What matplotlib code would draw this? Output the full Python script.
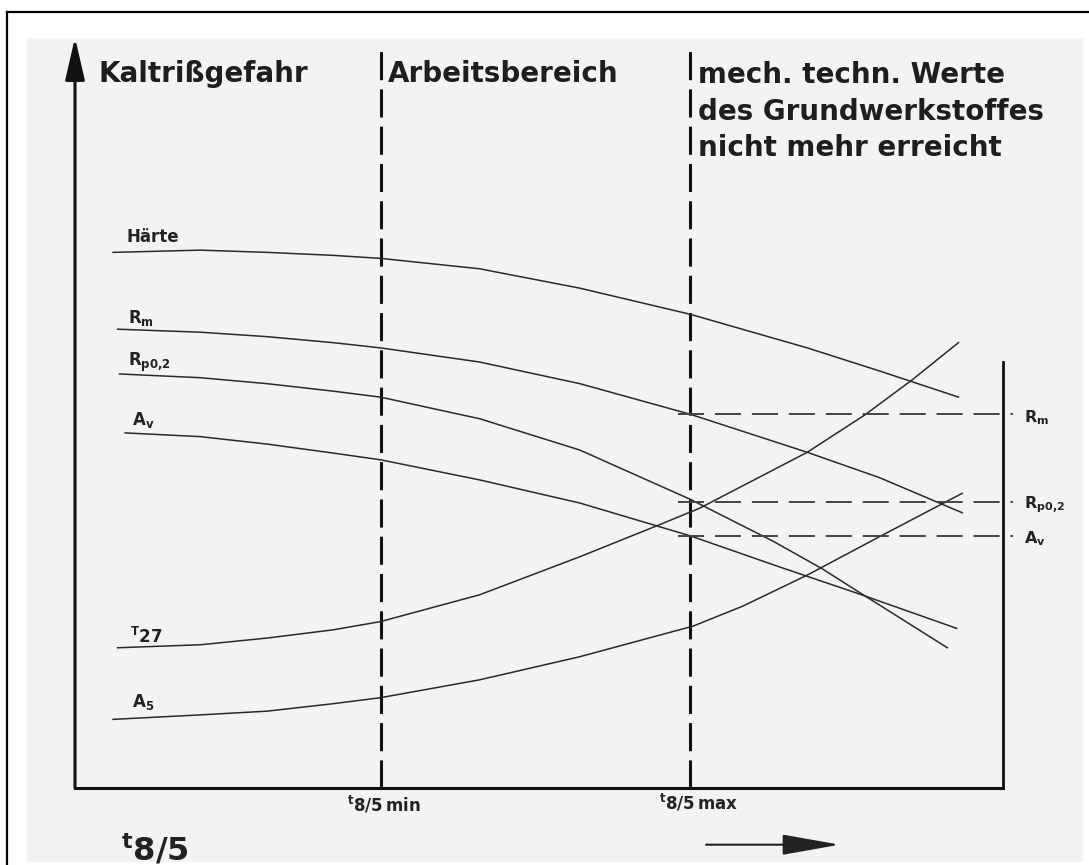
import matplotlib.pyplot as plt
from matplotlib.patches import Rectangle

plt.rcParams['mathtext.fontset'] = 'dejavusans'

# values read off the scanned schematic
# x = t8/5 in relative units (0..100), y = relative property value (0..100)
haerte_x = [4.1, 13.5, 20.7, 27.8, 32.9, 43.6, 54.4, 66.3, 78.9, 86.7, 95.2]
haerte_y = [71.8, 72.1, 71.8, 71.4, 71.0, 69.6, 67.0, 63.5, 59.0, 55.9, 52.4]

rm_x = [4.6, 13.5, 20.7, 27.8, 32.9, 43.6, 54.4, 66.3, 78.9, 86.7, 95.6]
rm_y = [61.5, 61.1, 60.5, 59.7, 59.0, 57.1, 54.2, 50.1, 45.0, 41.6, 36.9]

rp_x = [4.8, 13.5, 20.7, 27.8, 32.9, 43.6, 54.4, 66.3, 75.2, 80.5, 84.3, 94.0]
rp_y = [55.5, 55.0, 54.2, 53.2, 52.4, 49.5, 45.3, 38.7, 33.1, 29.4, 26.4, 18.8]

av_x = [5.4, 13.5, 20.7, 27.8, 32.9, 43.6, 54.4, 66.3, 76.0, 84.3, 95.0]
av_y = [47.6, 47.1, 46.1, 44.9, 44.0, 41.3, 38.2, 33.8, 29.6, 26.1, 21.4]

t27_x = [4.6, 13.5, 20.7, 27.8, 32.9, 43.6, 54.4, 63.0, 67.3, 78.9, 85.1, 90.2, 95.2]
t27_y = [18.8, 19.2, 20.1, 21.2, 22.3, 25.9, 31.0, 35.3, 37.5, 45.0, 50.0, 54.7, 59.7]

a5_x = [4.1, 13.5, 20.7, 27.8, 32.9, 43.6, 54.4, 66.6, 72.0, 79.0, 86.4, 95.6]
a5_y = [9.2, 9.8, 10.3, 11.3, 12.1, 14.5, 17.6, 21.7, 24.4, 28.6, 33.5, 39.5]

curve_labels = ['Härte', r'$\mathbf{R_m}$', r'$\mathbf{R_{p0{,}2}}$', r'$\mathbf{A_v}$',
                r'$\mathbf{{}^{T}27}$', r'$\mathbf{A_5}$']
label_pos = [(5.6, 73.9), (5.7, 63.0), (5.7, 57.1), (6.1, 49.3), (5.9, 20.3), (6.1, 11.5)]

t_min = 33.0
t_max = 66.3
ref_names = [r'$\mathbf{R_m}$', r'$\mathbf{R_{p0{,}2}}$', r'$\mathbf{A_v}$']
ref_levels = [50.1, 38.4, 33.8]
ref_start, ref_end = 65.0, 101.1
right_line_top = 57.1

zone_titles = ['Kaltrißgefahr', 'Arbeitsbereich']
zone_title_x = [2.5, 33.7]
zone3_lines = ['mech. techn. Werte', 'des Grundwerkstoffes', 'nicht mehr erreicht']
zone3_y = [95.6, 90.6, 85.8]

W, H = 1089, 865
fig = plt.figure(figsize=(W / 100, H / 100), dpi=100)
fig.patch.set_facecolor('white')

# scanned paper look + outer frame
fig.patches.append(Rectangle((27 / W, 3 / H), 1056 / W, 824 / H, transform=fig.transFigure,
                             facecolor='#f3f3f3', edgecolor='none', zorder=-5))
fig.add_artist(plt.Line2D([7 / W, 7 / W], [0, 853 / H], color='black', lw=1.6))
fig.add_artist(plt.Line2D([7 / W, 1], [853 / H, 853 / H], color='black', lw=1.6))

ax = fig.add_axes([75 / W, (H - 788) / H, (1003 - 75) / W, (788 - 42) / H])
ax.set_facecolor('none')
ax.set_xlim(0, 100)
ax.set_ylim(0, 100)
for s in ['top', 'right', 'left']:
    ax.spines[s].set_visible(False)
ax.spines['bottom'].set_linewidth(2.2)
ax.spines['bottom'].set_color('#111111')
ax.set_xticks([])
ax.set_yticks([])

# y axis arrow
ax.annotate('', xy=(0, 100.6), xytext=(0, 0), annotation_clip=False,
            arrowprops=dict(arrowstyle='-|>,head_length=1.3,head_width=0.3',
                            mutation_scale=20, lw=2.2, color='#111111',
                            shrinkA=0, shrinkB=0))
ax.plot([100, 100], [0, right_line_top], color='#111111', lw=2.0, clip_on=False)

# zone borders
for t in [t_min, t_max]:
    ax.plot([t, t], [0, 99.6], color='#111111', lw=2.2, dashes=(9.2, 3.0), clip_on=False)

# curves
line_kw = dict(color='#2a2a2a', lw=1.1, solid_joinstyle='round')
for xs, ys in [(haerte_x, haerte_y), (rm_x, rm_y), (rp_x, rp_y),
               (av_x, av_y), (t27_x, t27_y), (a5_x, a5_y)]:
    ax.plot(xs, ys, **line_kw)

for txt, (lx, ly) in zip(curve_labels, label_pos):
    ax.text(lx, ly, txt, fontsize=12, fontweight='bold', color='#222222',
            ha='left', va='center')

# reference levels at t8/5 max
for name, lvl in zip(ref_names, ref_levels):
    ax.plot([ref_start, ref_end], [lvl, lvl], color='#444444', lw=1.4,
            dashes=(13.4, 5.6), clip_on=False)
    ax.text(102.3, lvl - 0.4, name, fontsize=11.5, color='#222222',
            ha='left', va='center', clip_on=False)

# zone titles
for txt, zx in zip(zone_titles, zone_title_x):
    ax.text(zx, 95.7, txt, fontsize=20, fontweight='bold', color='#1e1e1e',
            ha='left', va='center')
for txt, zy in zip(zone3_lines, zone3_y):
    ax.text(67.1, zy, txt, fontsize=20, fontweight='bold', color='#1e1e1e',
            ha='left', va='center')

# x axis marks
ax.text(t_min + 0.3, -2.3, r'$\mathbf{{}^{t}8/5\,min}$', fontsize=12, ha='center',
        va='center', color='#222222')
ax.text(t_max + 0.9, -2.0, r'$\mathbf{{}^{t}8/5\,max}$', fontsize=12, ha='center',
        va='center', color='#222222')
ax.text(8.6, -8.2, r'$\mathbf{{}^{t}8/5}$', fontsize=23, ha='center',
        va='center', color='#222222')
ax.annotate('', xy=(82.4, -7.6), xytext=(68.0, -7.6), annotation_clip=False,
            arrowprops=dict(arrowstyle='-|>,head_length=1.8,head_width=0.32',
                            mutation_scale=20, lw=1.5, color='#222222',
                            shrinkA=0, shrinkB=0))

fig.savefig('out.png', dpi=100)
